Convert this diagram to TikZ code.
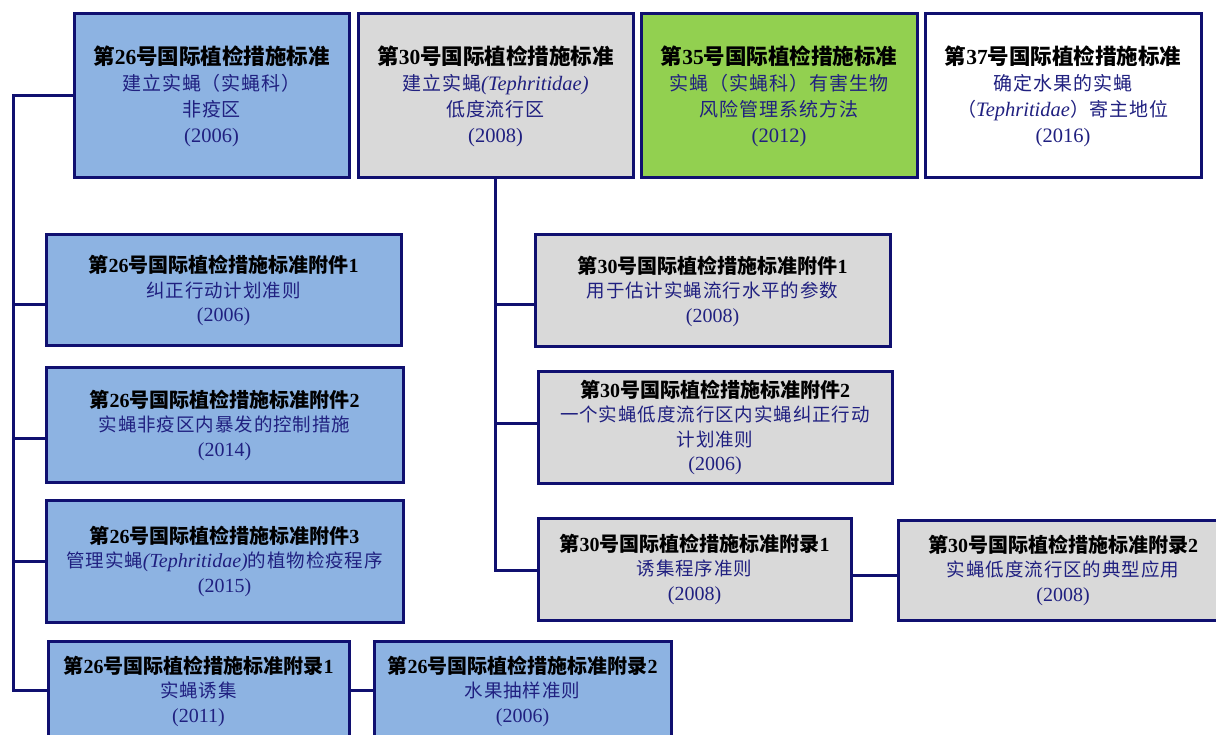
\documentclass[tikz,border=0pt]{standalone}
\usepackage{fontspec}
\setmainfont{Liberation Serif}
\newfontfamily\cjk{Noto Sans CJK SC}
\newfontfamily\cjks[LetterSpace=5]{Noto Sans CJK SC}
\definecolor{navy}{RGB}{16,16,112}
\definecolor{txtblue}{RGB}{32,32,128}
\definecolor{fillblue}{RGB}{141,179,226}
\definecolor{fillgray}{RGB}{217,217,217}
\definecolor{fillgreen}{RGB}{146,208,80}
\newcommand\ttl[3]{{\color{black}\bfseries{\cjk 第}#1{\cjk 号国际植检措施标准#2}#3}}
\newcommand\zh[1]{{\fontsize{18.5}{24.5}\selectfont\cjks #1}}
\newcommand\zhb[1]{{\fontsize{19}{26}\selectfont\cjks #1}}
\tikzset{
  box/.style={draw=navy, line width=3pt, inner sep=0pt, align=center, text=txtblue,
    font=\fontsize{20}{24.5}\selectfont},
  topbox/.style={box, minimum width=275pt, minimum height=164pt, font=\fontsize{20.5}{26}\selectfont},
  conn/.style={draw=navy, line width=3pt, line join=miter},
  blue/.style={fill=fillblue},
  gray/.style={fill=fillgray},
  green/.style={fill=fillgreen},
  white/.style={fill=white}
}
\begin{document}
\begin{tikzpicture}[x=1pt,y=-1pt]
\useasboundingbox (0,0) rectangle (1216,735);
\clip (0,0) rectangle (1216,735);
% top row
\node[topbox,blue] (A26) at (211.5,96) {{\fontsize{21.5}{26}\selectfont\ttl{26}{}{}}\\ \zhb{建立实蝇（实蝇科）}\\ \zhb{非疫区}\\ (2006)};
\node[topbox,gray] (B30) at (495.5,96) {{\fontsize{21.5}{26}\selectfont\ttl{30}{}{}}\\ \zhb{建立实蝇}\textit{(Tephritidae)}\\ \zhb{低度流行区}\\ (2008)};
\node[topbox,green,minimum width=276pt] (C35) at (779,96) {{\fontsize{21.5}{26}\selectfont\ttl{35}{}{}}\\ \zhb{实蝇（实蝇科）有害生物}\\ \zhb{风险管理系统方法}\\ (2012)};
\node[topbox,white,minimum width=276pt] (D37) at (1063,96) {{\fontsize{21.5}{26}\selectfont\ttl{37}{}{}}\\ \zhb{确定水果的实蝇}\\ \zhb{（}\textit{Tephritidae}\zhb{）寄主地位}\\ (2016)};
% ISPM 26 column
\node[box,blue,minimum width=355pt,minimum height=111pt] (a126) at (223.5,290.5) {\ttl{26}{附件}{1}\\ \zh{纠正行动计划准则}\\ (2006)};
\node[box,blue,minimum width=357pt,minimum height=114pt] (a226) at (224.5,425) {\ttl{26}{附件}{2}\\ \zh{实蝇非疫区内暴发的控制措施}\\ (2014)};
\node[box,blue,minimum width=357pt,minimum height=122pt] (a326) at (224.5,561) {\ttl{26}{附件}{3}\\ \zh{管理实蝇}\textit{(Tephritidae)}\zh{的植物检疫程序}\\ (2015)};
\node[box,blue,minimum width=301pt,minimum height=100pt] (r126) at (198.5,691) {\ttl{26}{附录}{1}\\ \zh{实蝇诱集}\\ (2011)};
\node[box,blue,minimum width=297pt,minimum height=100pt] (r226) at (522.5,691) {\ttl{26}{附录}{2}\\ \zh{水果抽样准则}\\ (2006)};
% ISPM 30 column
\node[box,gray,minimum width=355pt,minimum height=112pt] (a130) at (712.5,291) {\ttl{30}{附件}{1}\\ \zh{用于估计实蝇流行水平的参数}\\ (2008)};
\node[box,gray,minimum width=354pt,minimum height=111pt] (a230) at (715,427.5) {\ttl{30}{附件}{2}\\ \zh{一个实蝇低度流行区内实蝇纠正行动}\\ \zh{计划准则}\\ (2006)};
\node[box,gray,minimum width=313pt,minimum height=102pt] (r130) at (694.5,569) {\ttl{30}{附录}{1}\\ \zh{诱集程序准则}\\ (2008)};
\node[box,gray,minimum width=330pt,minimum height=100pt] (r230) at (1063,570) {\ttl{30}{附录}{2}\\ \zh{实蝇低度流行区的典型应用}\\ (2008)};
% spine coordinates
\coordinate (L0) at (13,96);
\coordinate (L1) at (13,305);
\coordinate (L2) at (13,438);
\coordinate (L3) at (13,561);
\coordinate (L4) at (13,690);
\coordinate (M1) at (495.5,305);
\coordinate (M2) at (495.5,423);
\coordinate (M3) at (495.5,570);
\coordinate (R) at (875,575);
% connectors
\draw[conn] (A26.west) -- (L0) -- (L4) -- (L4 -| r126.west);
\draw[conn] (L1) -- (L1 -| a126.west);
\draw[conn] (L2) -- (L2 -| a226.west);
\draw[conn] (L3) -- (L3 -| a326.west);
\draw[conn] (L4 -| r126.east) -- (L4 -| r226.west);
\draw[conn] (B30.south) -- (M3) -- (M3 -| r130.west);
\draw[conn] (M1) -- (M1 -| a130.west);
\draw[conn] (M2) -- (M2 -| a230.west);
\draw[conn] (R -| r130.east) -- (R -| r230.west);
\end{tikzpicture}
\end{document}
